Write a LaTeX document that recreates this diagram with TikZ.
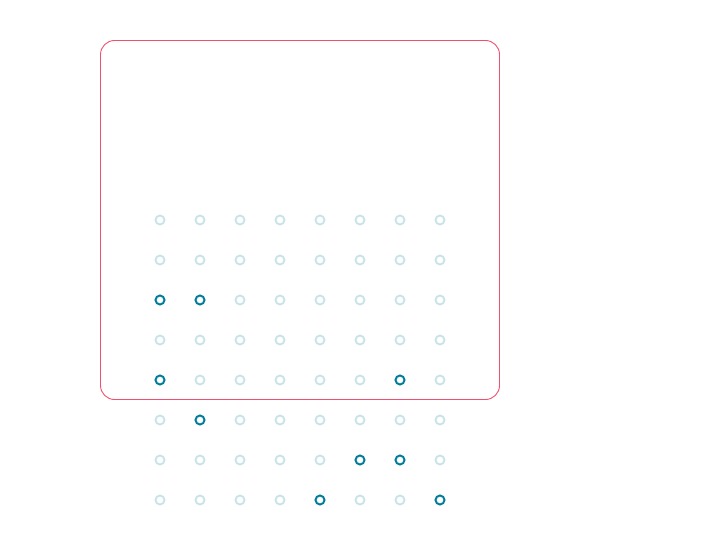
\documentclass[tikz,border=0pt]{standalone}
\begin{document}
\begin{tikzpicture}[x=1pt,y=-1pt,
  frame/.style={draw={rgb,255:red,240;green,80;blue,110}, line width=0.9pt, rounded corners=14pt},
  dot/.style={circle, draw={rgb,255:red,200;green,227;blue,234}, line width=1.9pt, minimum size=9pt, inner sep=0pt},
  hot/.style={circle, draw={rgb,255:red,0;green,125;blue,152}, line width=1.9pt, minimum size=9pt, inner sep=0pt}]
\useasboundingbox (0,0) rectangle (704,548);
\draw[frame] (100.5,40.5) rectangle (499.5,399.5);
\foreach \c in {1,...,8}{
  \foreach \r in {1,...,8}{
    \node[dot] (d\c-\r) at ({120+40*\c},{180+40*\r}) {};
  }
}
\foreach \c/\r in {1/3,2/3,1/5,7/5,2/6,6/7,7/7,5/8,8/8}{
  \node[hot] (h\c-\r) at ({120+40*\c},{180+40*\r}) {};
}
\end{tikzpicture}
\end{document}
